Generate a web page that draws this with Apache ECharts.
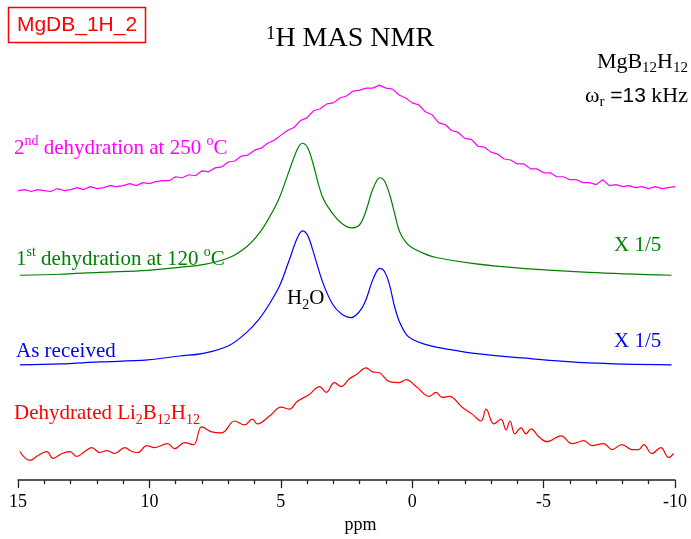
<!DOCTYPE html>
<html>
<head>
<meta charset="utf-8">
<script src="https://cdn.jsdelivr.net/npm/echarts@6/dist/echarts.min.js"></script>
<style>
  html, body { margin: 0; padding: 0; background: #ffffff; }
  #chart { width: 691px; height: 539px; }
</style>
</head>
<body>
<div id="chart"></div>
<script>
// Chemical-shift axis (ppm, drawn high to low)
const xMin = -10;
const xMax = 15;
const xInterval = 5;

// Sampling grid of the 2nd dehydration spectrum (ppm)
const ppmGrid = [
  15, 14.75, 14.5, 14.25, 14, 13.75, 13.5, 13.25, 13, 12.75, 12.5, 12.25, 12,
  11.75, 11.5, 11.25, 11, 10.75, 10.5, 10.25, 10, 9.75, 9.5, 9.25, 9,
  8.75, 8.5, 8.25, 8, 7.75, 7.5, 7.25, 7, 6.75, 6.5, 6.25, 6,
  5.75, 5.5, 5.25, 5, 4.75, 4.5, 4.25, 4, 3.75, 3.5, 3.25, 3,
  2.75, 2.5, 2.25, 2, 1.75, 1.5, 1.25, 1, 0.75, 0.5, 0.25, 0,
  -0.25, -0.5, -0.75, -1, -1.25, -1.5, -1.75, -2, -2.25, -2.5, -2.75, -3,
  -3.25, -3.5, -3.75, -4, -4.25, -4.5, -4.75, -5, -5.25, -5.5, -5.75, -6,
  -6.25, -6.5, -6.75, -7, -7.25, -7.5, -7.75, -8, -8.25, -8.5, -8.75, -9,
  -9.25, -9.5, -9.75, -10
];
// 2nd dehydration at 250 °C (stacked intensity, arbitrary units)
const dehyd250 = [
  295, 296, 294, 296, 295, 294, 297, 295, 296, 298, 296, 299, 297,
  298, 300, 299, 300, 302, 300, 303, 302, 304, 305, 305, 309,
  308, 311, 310, 315, 314, 318, 319, 324, 325, 330, 331, 336,
  338, 343, 346, 351, 356, 359, 366, 369, 376, 378, 383, 384,
  389, 391, 396, 397, 399, 399, 402, 399, 398, 392, 389, 384,
  382, 375, 372, 364, 362, 356, 354, 348, 347, 340, 339, 334,
  332, 327, 326, 322, 322, 317, 317, 313, 313, 309, 309, 306,
  306, 303, 303, 301, 306, 300, 301, 299, 300, 298, 299, 297,
  299, 297, 298, 299
];

// Shared shift positions of the two narrow-line spectra (ppm)
const peakPpm = [
  14.93, 13.41, 11.89, 10.06, 8.85, 7.90, 6.95, 6.30, 5.81, 5.43, 5.05, 4.67,
  4.37, 4.18, 3.99, 3.80, 3.42, 3.04, 2.70, 2.32, 2.01, 1.79, 1.52, 1.33,
  1.22, 1.06, 0.87, 0.68, 0.49, 0.23, 0, -0.46, -0.91, -2.28, -4.18, -6.72, -9.87
];
// 1st dehydration at 120 °C (x 1/5)
const dehyd120 = [
  209, 210, 212, 214, 217, 220, 227, 238, 252, 268, 288, 316,
  337, 343, 339, 325, 289, 272, 262, 257, 260, 272, 295, 306,
  308, 305, 292, 273, 254, 242, 237, 231, 227, 221, 216, 212, 209
];
// As received (x 1/5)
const asReceived = [
  118, 119, 121, 123, 127, 130, 138, 151, 165, 180, 198, 225,
  247, 254, 250, 236, 203, 180, 170, 166, 172, 182, 203, 214,
  216, 213, 200, 178, 162, 149, 144, 139, 136, 130, 125, 120, 118
];

// Dehydrated Li2B12H12 reference
const liPpm = [
  14.93, 14.55, 14.24, 13.90, 13.67, 13.33, 13.03, 12.76, 12.46, 12.19, 11.89, 11.62,
  11.32, 10.94, 10.67, 10.44, 10.10, 9.80, 9.31, 9.04, 8.66, 8.32, 8.01, 7.63,
  7.25, 6.76, 6.38, 6.08, 5.89, 5.43, 4.98, 4.67, 4.37, 3.91, 3.53, 3.27,
  2.96, 2.70, 2.39, 2.13, 1.75, 1.52, 1.25, 0.87, 0.49, 0.23, -0.15, -0.65,
  -0.91, -1.14, -1.41, -1.90, -2.28, -2.62, -2.81, -3.11, -3.38, -3.57, -3.72, -3.91,
  -4.14, -4.33, -4.52, -4.82, -5.13, -5.66, -6.08, -6.53, -6.84, -7.29, -7.60, -7.98,
  -8.36, -8.62, -8.81, -9.12, -9.46, -9.76, -9.95
];
const liDehydrated = [
  30, 21, 26, 30, 23, 28, 30, 25, 30, 34, 29, 31,
  28, 34, 30, 29, 36, 34, 38, 33, 39, 37, 55, 50,
  49, 61, 57, 63, 58, 66, 75, 73, 81, 88, 96, 90,
  100, 96, 104, 108, 115, 111, 110, 101, 100, 103, 96, 86,
  90, 85, 86, 75, 68, 61, 73, 58, 63, 52, 61, 48,
  54, 48, 53, 45, 40, 46, 38, 41, 36, 38, 32, 37,
  32, 32, 37, 28, 34, 24, 28
];

const traceNames = ['2nd dehydration', '1st dehydration', 'As received', 'Dehydrated Li2B12H12'];
const traceColors = ['#ff00ff', '#008000', '#0000ff', '#ff0000'];

function pairs(xs, ys) {
  return xs.map((x, i) => [x, ys[i]]);
}

const serif = '"Liberation Serif", "Times New Roman", serif';
const sans = '"Liberation Sans", Arial, sans-serif';

function richStyles(color, size) {
  const small = Math.round(size * 0.68);
  return {
    n: { fontFamily: serif, fontSize: size, lineHeight: 28, fill: color },
    sup: { fontFamily: serif, fontSize: small, lineHeight: 15, verticalAlign: 'top', fill: color },
    sub: { fontFamily: serif, fontSize: small, lineHeight: 15, verticalAlign: 'bottom', fill: color },
    s: { fontFamily: sans, fontSize: size - 1, lineHeight: 28, fill: color }
  };
}

function label(text, x, y, color, align, size) {
  return {
    type: 'text',
    x: x,
    y: y,
    silent: true,
    style: {
      text: text,
      align: align || 'left',
      verticalAlign: 'middle',
      textAlign: align || 'left',
      textVerticalAlign: 'middle',
      fill: color,
      font: (size || 21) + 'px ' + serif,
      rich: richStyles(color, size || 21)
    }
  };
}

const chart = echarts.init(document.getElementById('chart'), null, { renderer: 'canvas' });

const lineSeries = (name, data, color, smooth) => ({
  name: name,
  type: 'line',
  data: data,
  showSymbol: false,
  smooth: smooth,
  lineStyle: { color: color, width: 1.2 },
  itemStyle: { color: color },
  silent: true
});

chart.setOption({
  animation: false,
  backgroundColor: '#ffffff',
  grid: { left: 18, right: 16, top: 30, bottom: 52 },
  xAxis: {
    type: 'value',
    min: xMin,
    max: xMax,
    interval: xInterval,
    inverse: true,
    name: 'ppm',
    nameLocation: 'middle',
    nameGap: 32,
    nameTextStyle: { fontFamily: serif, fontSize: 18, color: '#000', padding: [0, 0, 0, 28] },
    axisLine: { show: true, onZero: false, lineStyle: { color: '#222', width: 1.5 } },
    axisTick: { show: true, length: 8, lineStyle: { color: '#222', width: 1.3 } },
    minorTick: { show: true, splitNumber: 5, length: 4, lineStyle: { color: '#222', width: 1.3 } },
    splitLine: { show: false },
    minorSplitLine: { show: false },
    axisLabel: { fontFamily: serif, fontSize: 18, color: '#000', margin: 13 }
  },
  yAxis: {
    type: 'value',
    min: 1,
    max: 458,
    show: false
  },
  series: [
    lineSeries(traceNames[0], pairs(ppmGrid, dehyd250), traceColors[0], false),
    lineSeries(traceNames[1], pairs(peakPpm, dehyd120), traceColors[1], 0.35),
    lineSeries(traceNames[2], pairs(peakPpm, asReceived), traceColors[2], 0.35),
    lineSeries(traceNames[3], pairs(liPpm, liDehydrated), traceColors[3], 0.4)
  ],
  graphic: [
    {
      type: 'rect',
      silent: true,
      shape: { x: 8.5, y: 7.5, width: 137, height: 35 },
      style: { fill: 'none', stroke: '#ff0000', lineWidth: 1.5 }
    },
    {
      type: 'text',
      x: 77,
      y: 25,
      silent: true,
      style: {
        text: 'MgDB_1H_2', align: 'center', verticalAlign: 'middle',
        textAlign: 'center', textVerticalAlign: 'middle',
        fill: '#ff0000', font: '21px ' + sans
      }
    },
    label('{sup|1}{n|H MAS NMR}', 350, 39, '#000000', 'center', 28),
    label('{n|MgB}{sub|12}{n|H}{sub|12}', 688, 62, '#000000', 'right', 22),
    label('{n|ω}{sub|r}{s| =13}{n| kHz}', 688, 96, '#000000', 'right', 22),
    label('{n|2}{sup|nd}{n| dehydration at 250 }{sup|o}{n|C}', 14, 148, traceColors[0], 'left', 21),
    label('{n|1}{sup|st}{n| dehydration at 120 }{sup|o}{n|C}', 16, 259, traceColors[1], 'left', 21),
    label('{n|As received}', 16, 351, traceColors[2], 'left', 21),
    label('{n|Dehydrated Li}{sub|2}{n|B}{sub|12}{n|H}{sub|12}', 14, 413, traceColors[3], 'left', 21),
    label('{n|H}{sub|2}{n|O}', 287, 298, '#000000', 'left', 21),
    label('{n|X 1/5}', 614, 245, traceColors[1], 'left', 21),
    label('{n|X 1/5}', 614, 341, traceColors[2], 'left', 21)
  ]
});
</script>
</body>
</html>
